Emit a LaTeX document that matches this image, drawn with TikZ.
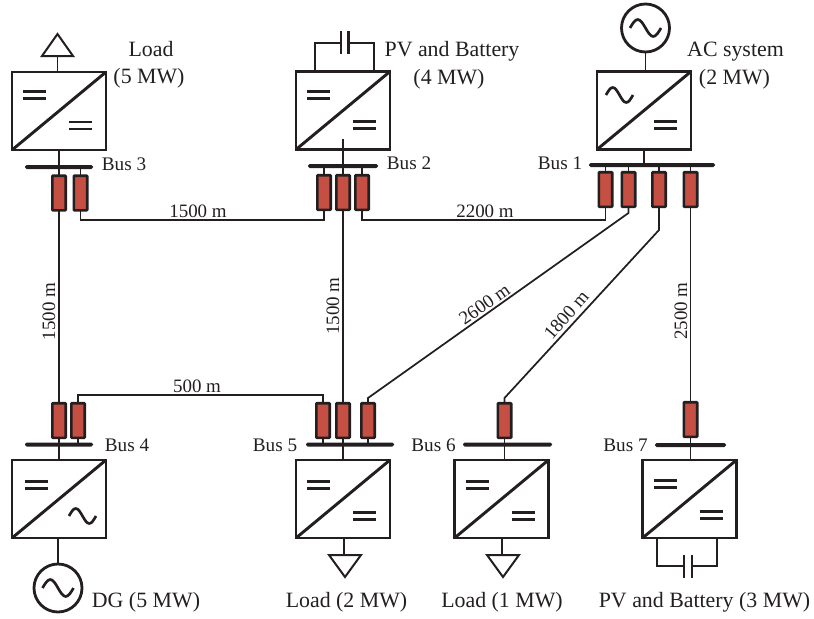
\documentclass[tikz,border=0pt]{standalone}
\usepackage{fontspec}
\setmainfont{Liberation Serif}
\definecolor{fusered}{HTML}{C44F42}
\definecolor{ink}{HTML}{231F20}
\tikzset{
  wire/.style={draw=ink,line width=1.3pt},
  thick wire/.style={draw=ink,line width=1.9pt},
  conv/.style={draw=ink,line width=2.2pt,rectangle,minimum width=70.5pt,minimum height=58.5pt,outer sep=0pt,inner sep=0pt},
  fuse/.style={draw=ink,fill=fusered,line width=2pt,rectangle,rounded corners=.6pt,minimum width=10pt,minimum height=26pt,outer sep=0pt,inner sep=0pt},
  busbar/.style={fill=ink,rectangle,rounded corners=1.2pt,minimum height=3pt,outer sep=0pt,inner sep=0pt},
  source/.style={draw=ink,line width=2.1pt,circle,minimum size=36pt,outer sep=0pt,inner sep=0pt},
  lab/.style={font=\fontsize{16.4pt}{18pt}\selectfont,text=ink,anchor=base,inner sep=0pt},
  len/.style={font=\fontsize{14.2pt}{16pt}\selectfont,text=ink,anchor=base,inner sep=0pt},
  buslab/.style={font=\fontsize{14.4pt}{16pt}\selectfont,text=ink,anchor=base,inner sep=0pt},
}
\newcommand{\dcsym}[2]{\draw[draw=ink,line width=2pt] (#1-11.5,#2-3.5) -- (#1+11.5,#2-3.5) (#1-11.5,#2+3.5) -- (#1+11.5,#2+3.5);}
\newcommand{\acsym}[4]{\begin{scope}[shift={(#1,#2)}]\draw[draw=ink,line width=2pt] (-#3,0) sin (-#3/2,-#4) cos (0,0) sin (#3/2,#4) cos (#3,0);\end{scope}}
\newcommand{\diag}[1]{\draw[thick wire,line width=2.2pt] (#1.south west) -- (#1.north east);}
\begin{document}
\begin{tikzpicture}[x=0.75pt,y=-0.75pt]
\useasboundingbox (0,0) rectangle (814,618);
% converters
\node[conv] (c3) at (59,111) {};
\node[conv] (c2) at (343,110.5) {};
\node[conv] (c1) at (644,110.5) {};
\node[conv] (c4) at (59,499) {};
\node[conv] (c5) at (343,499) {};
\node[conv] (c6) at (501.5,499) {};
\node[conv] (c7) at (689.5,499) {};
\foreach \n in {c1,c2,c3,c4,c5,c6,c7} {\diag{\n}}
\dcsym{34.5}{95}\dcsym{80.5}{125.5}
\dcsym{318.5}{95}\dcsym{364.5}{125}
\acsym{619.5}{95}{13.5}{7.5}\dcsym{665.5}{125}
\dcsym{36.5}{485}\acsym{82.5}{516}{13.5}{7.5}
\dcsym{318.5}{485}\dcsym{364.5}{516}
\dcsym{477}{485}\dcsym{523}{516}
\dcsym{665}{484}\dcsym{711}{515}
% buses
\node[busbar,minimum width=51pt] (b3) at (59,167) {};
\node[busbar,minimum width=52.5pt] (b2) at (343,166) {};
\node[busbar,minimum width=94.5pt] (b1) at (652,165) {};
\node[busbar,minimum width=51pt] (b4) at (59,444.5) {};
\node[busbar,minimum width=66pt] (b5) at (350,444.5) {};
\node[busbar,minimum width=66.75pt] (b6) at (507.5,444.5) {};
\node[busbar,minimum width=53.25pt] (b7) at (690.5,445) {};
% fuses
\node[fuse] (f31) at (59,193) {};
\node[fuse] (f32) at (80.5,193) {};
\node[fuse] (f21) at (324,192.5) {};
\node[fuse] (f22) at (343,192.5) {};
\node[fuse] (f23) at (362,192.5) {};
\node[fuse] (f11) at (605.5,189.5) {};
\node[fuse] (f12) at (628.5,189.5) {};
\node[fuse] (f13) at (659,189.5) {};
\node[fuse] (f14) at (690.5,189.5) {};
\node[fuse] (f41) at (59,420.5) {};
\node[fuse] (f42) at (78,420.5) {};
\node[fuse] (f51) at (323,420.5) {};
\node[fuse] (f52) at (343,420.5) {};
\node[fuse] (f53) at (368,420.5) {};
\node[fuse] (f61) at (504.5,420.5) {};
\node[fuse] (f71) at (690.5,419.5) {};
% sources and loads
\node[source] (g1) at (645.5,28) {};
\node[source] (g4) at (58,588) {};
\acsym{645.5}{28}{15.5}{8.5}
\acsym{58}{588}{15.5}{8.5}
\draw[thick wire,line width=1.5pt,line join=miter] (42,56) -- (73,56) -- (57.5,34) -- cycle;
\draw[thick wire,line width=1.5pt,line join=miter] (329,555) -- (361,555) -- (345,577) -- cycle;
\draw[thick wire,line width=1.5pt,line join=miter] (487,555) -- (519,555) -- (503,577) -- cycle;
\coordinate (t3) at (57.5,56);
\coordinate (t5) at (344,555);
\coordinate (t6) at (502,555);
\draw[wire] (t3) -- (t3 |- c3.north);
\draw[wire] (t5) -- (t5 |- c5.south);
\draw[wire] (t6) -- (t6 |- c6.south);
% storage
\coordinate (s2l) at (315,43);
\coordinate (s2r) at (374,43);
\coordinate (p2a) at (341,43);
\coordinate (p2b) at (348.5,43);
\draw[thick wire] (s2l |- c2.north) -- (s2l) -- (p2a);
\draw[thick wire] (s2r |- c2.north) -- (s2r) -- (p2b);
\draw[thick wire] (341,31) -- (341,54) (348.5,31) -- (348.5,54);
\coordinate (s7l) at (657,566);
\coordinate (s7r) at (717,566);
\coordinate (p7a) at (684,566);
\coordinate (p7b) at (692,566);
\draw[thick wire] (s7l |- c7.south) -- (s7l) -- (p7a);
\draw[thick wire] (s7r |- c7.south) -- (s7r) -- (p7b);
\draw[thick wire] (684,555) -- (684,578) (692,555) -- (692,578);
% short links
\draw[wire] (g1.south) -- (g1.south |- c1.north);
\draw[wire] (g4.north) -- (g4.north |- c4.south);
\draw[wire] (c3.south) -- (f31.north);
\draw[wire] (f32.north) -- (f32.north |- b3.center);
\coordinate (inner2) at (343,139);
\draw[wire] (inner2) -- (f22.north);
\draw[wire] (f21.north) -- (f21.north |- b2.center);
\draw[wire] (f23.north) -- (f23.north |- b2.center);
\draw[wire] (c1.south) -- (c1.south |- b1.center);
\foreach \n in {f11,f12,f13,f14} {\draw[wire] (\n.north) -- (\n.north |- b1.center);}
\draw[wire] (f41.south) -- (c4.north);
\draw[wire] (f42.south) -- (f42.south |- b4.center);
\draw[wire] (f51.south) -- (f51.south |- b5.center);
\draw[wire] (f52.south) -- (c5.north);
\draw[wire] (f53.south) -- (f53.south |- b5.center);
\draw[wire] (f61.south) -- (f61.south |- c6.north);
\draw[wire] (f71.south) -- (f71.south |- c7.north);
% feeders
\coordinate (k1) at (80.5,220);
\coordinate (k2) at (362,220);
\coordinate (k3) at (78,395);
\coordinate (k4) at (628.5,213);
\coordinate (k5) at (368,398);
\coordinate (k6) at (659,230);
\coordinate (k7) at (504.5,398);
\draw[wire] (f31.south) -- (f41.north);
\draw[wire] (f22.south) -- (f52.north);
\draw[wire] (f14.south) -- (f71.north);
\draw[wire] (f32.south) -- (k1) -| (f21.south);
\draw[wire] (f23.south) -- (k2) -| (f11.south);
\draw[wire] (f42.north) -- (k3) -| (f51.north);
\draw[wire] (f12.south) -- (k4) -- (k5) -- (f53.north);
\draw[wire] (f13.south) -- (k6) -- (k7) -- (f61.north);
% labels
\node[lab] (l1) at (151,56) {Load};
\node[lab] (l2) at (149,83) {(5 MW)};
\node[lab] (l3) at (452,56) {PV and Battery};
\node[lab] (l4) at (449,84) {(4 MW)};
\node[lab] (l5) at (735.5,56) {AC system};
\node[lab] (l6) at (734.5,84) {(2 MW)};
\node[lab] (l7) at (146,607.5) {DG (5 MW)};
\node[lab] (l8) at (346.5,607.5) {Load (2 MW)};
\node[lab] (l9) at (502,607.5) {Load (1 MW)};
\node[lab] (l10) at (704.5,607.5) {PV and Battery (3 MW)};
\node[buslab] (n3) at (124,170) {Bus 3};
\node[buslab] (n2) at (409,169) {Bus 2};
\node[buslab] (n1) at (560,169) {Bus 1};
\node[buslab] (n4) at (127,451) {Bus 4};
\node[buslab] (n5) at (275,451) {Bus 5};
\node[buslab] (n6) at (433.5,451) {Bus 6};
\node[buslab] (n7) at (625.5,451) {Bus 7};
\node[len] (d1) at (198,217) {1500 m};
\node[len] (d2) at (485,217) {2200 m};
\node[len] (d3) at (197,392) {500 m};
\node[len,rotate=90] (d4) at (55,311.5) {1500 m};
\node[len,rotate=90] (d5) at (339,306) {1500 m};
\node[len,rotate=90] (d6) at (687,311) {2500 m};
\node[len,rotate=35] (d7) at (488,309) {2600 m};
\node[len,rotate=49] (d8) at (571,319) {1800 m};
\end{tikzpicture}
\end{document}
